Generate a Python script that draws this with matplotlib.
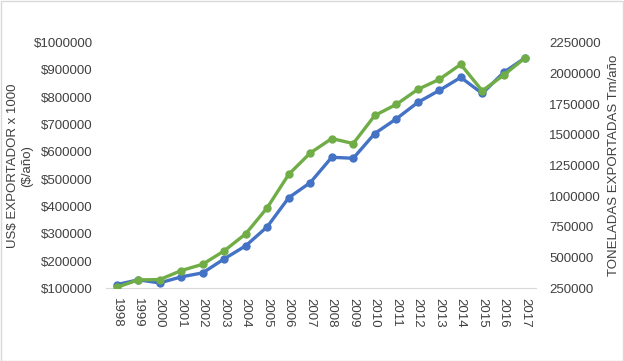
import matplotlib
matplotlib.use("Agg")
import matplotlib.pyplot as plt
import numpy as np

plt.rcParams['font.family'] = ['Liberation Sans', 'DejaVu Sans']

years = [str(y) for y in range(1998, 2018)]
usd = [113600, 130900, 119800, 141900, 156600, 208000, 255800, 325600,
       432100, 487200, 580100, 576500, 667200, 720800, 781100, 825100,
       872900, 814100, 891300, 944900]
tons = [258000, 318600, 321000, 394500, 445900, 555300, 694100, 906300,
        1178200, 1352000, 1469600, 1428800, 1657300, 1747100, 1869600,
        1951200, 2073700, 1858200, 1986300, 2127600]
left_ticks = np.arange(100000, 1000001, 100000)
right_ticks = np.arange(250000, 2250001, 250000)

blue = "#4472C4"
green = "#70AD47"
txt = "#404040"

W, H = 624, 361
fig = plt.figure(figsize=(W / 100, H / 100), dpi=100)
ax = fig.add_axes([106 / W, 1 - 288.3 / H, 430 / W, 245.6 / H])
ax2 = ax.twinx()

x = np.arange(len(years))
ax.plot(x, usd, color=blue, lw=2.4, marker='o', ms=5)
ax2.plot(x, tons, color=green, lw=2.4, marker='o', ms=5)

ax.set_xlim(-0.5, len(years) - 0.5)
ax.set_ylim(100000, 1000000)
ax2.set_ylim(250000, 2250000)

ax.set_yticks(left_ticks)
ax.set_yticklabels(["$%d" % v for v in left_ticks])
ax2.set_yticks(right_ticks)
ax2.set_yticklabels(["%d" % v for v in right_ticks])
ax.set_xticks(x)
ax.set_xticklabels(years, rotation=270)

for a in (ax, ax2):
    for s in a.spines.values():
        s.set_visible(False)
    a.tick_params(length=0, labelsize=9.5, colors=txt)
ax.spines['bottom'].set_visible(True)
ax.spines['bottom'].set_color("#D9D9D9")
ax.tick_params(axis='y', pad=9.5)
ax.tick_params(axis='x', pad=7)
ax2.tick_params(axis='y', pad=9.5)

# axis titles
fig.text(20 / W, 1 - 166 / H, "US$ EXPORTADOR x 1000\n($/año)", rotation=90,
         ha='center', va='center', fontsize=9.5, color=txt, linespacing=1.15,
         multialignment='center')
fig.text(614 / W, 1 - 165 / H, "TONELADAS EXPORTADAS Tm/año", rotation=90,
         ha='center', va='center', fontsize=9.5, color=txt)

fig.patches.append(plt.Rectangle((0.001, 0.001), 0.998, 0.997, transform=fig.transFigure,
                                 fill=False, edgecolor="#D9D9D9", lw=1))

fig.savefig("out.png", dpi=100)
